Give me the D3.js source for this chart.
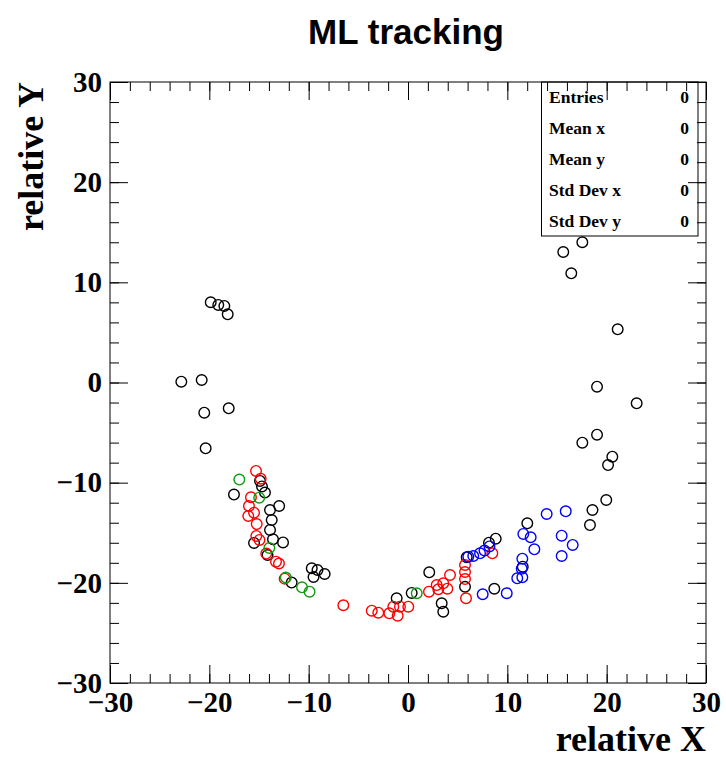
<!DOCTYPE html>
<html lang="en">
<head>
<meta charset="UTF-8">
<title>ML tracking</title>
<script src="https://d3js.org/d3.v7.min.js"></script>
<style>
  body { margin: 0; background: #fff; }
  svg { display: block; }
</style>
</head>
<body>
<div id="chart"></div>
<script>
// hits, [x, y] in relative units
const blackPts = [
  [-19.86, 8.01], [-19.10, 7.74], [-18.49, 7.64], [-18.15, 6.81],
  [-22.82, 0.08], [-20.77, 0.25], [-20.51, -3.01], [-18.05, -2.58], [-20.37, -6.57],
  [-14.90, -9.83], [-14.70, -10.38], [-14.40, -10.98], [-17.52, -11.19],
  [-12.97, -12.33], [-13.89, -12.73], [-13.72, -13.73], [-13.89, -14.72],
  [-13.59, -15.65], [-15.50, -16.02], [-12.58, -15.97], [-14.14, -17.22],
  [-11.71, -19.97], [-9.69, -18.55], [-9.11, -18.72], [-9.51, -19.42], [-8.39, -19.12],
  [17.55, 14.00], [15.63, 13.03], [16.44, 10.90], [21.11, 5.31], [19.03, -0.42],
  [23.02, -2.08], [19.03, -5.21], [17.55, -6.01], [20.57, -7.41], [20.14, -8.24],
  [19.96, -11.73], [18.57, -12.73], [18.32, -14.23], [12.01, -14.06],
  [8.83, -15.59], [8.15, -15.99], [5.91, -17.45], [2.14, -18.95], [0.37, -21.01],
  [-1.14, -21.54], [3.39, -22.04], [3.55, -22.88], [5.74, -20.39], [8.69, -20.59],
  [11.55, -18.39]
];
const redPts = [
  [-15.30, -8.83], [-14.83, -9.60], [-15.81, -11.46], [-16.01, -12.33], [-15.50, -13.00],
  [-16.08, -13.33], [-15.23, -14.13], [-15.27, -15.32], [-14.95, -15.72], [-14.27, -17.08],
  [-13.29, -17.89], [-12.99, -18.07], [-12.42, -19.58], [-6.51, -22.24],
  [8.49, -17.05], [5.74, -18.22], [5.74, -18.92], [5.74, -19.62], [5.84, -21.54],
  [4.23, -19.22], [3.55, -20.05], [2.89, -20.22], [3.96, -20.58], [3.05, -20.64],
  [2.11, -20.88], [0.03, -22.38], [-0.81, -22.38], [-1.48, -22.38], [-1.88, -23.04],
  [-1.04, -23.28], [-2.99, -22.98], [-3.65, -22.78]
];
const greenPts = [
  [-16.98, -9.69], [-14.98, -11.50], [-13.96, -16.52], [-12.30, -19.47],
  [-10.67, -20.45], [-9.91, -20.88], [0.88, -21.04]
];
const bluePts = [
  [13.96, -13.13], [15.88, -12.86], [11.61, -15.12], [12.35, -15.45], [12.72, -16.65],
  [15.47, -15.29], [16.58, -16.22], [15.47, -17.32], [11.51, -17.59], [11.45, -18.59],
  [11.00, -19.55], [11.51, -19.45], [7.52, -21.14], [9.94, -21.04],
  [6.07, -17.39], [6.57, -17.32], [7.25, -17.05], [7.70, -16.77], [8.20, -16.37]
];

const statNames = ["Entries", "Mean x", "Mean y", "Std Dev x", "Std Dev y"];
const statValues = [0, 0, 0, 0, 0];

const majorTicks = [-30, -20, -10, 0, 10, 20, 30];
const minorTicks = d3.range(-30, 30.1, 2);

const W = 726, H = 759;
const frame = { left: 110, right: 706, top: 82, bottom: 683 };

const svg = d3.select("#chart").append("svg")
  .attr("width", W).attr("height", H);

const x = d3.scaleLinear().domain([-30, 30]).range([frame.left, frame.right]);
const y = d3.scaleLinear().domain([-30, 30]).range([frame.bottom, frame.top]);

// title
svg.append("text")
  .attr("x", 406).attr("y", 44)
  .attr("text-anchor", "middle")
  .style("font", "bold 35px 'Liberation Sans', Arial, sans-serif")
  .text("ML tracking");

// markers
const series = [
  { pts: blackPts, color: "#000000" },
  { pts: redPts, color: "#ff0000" },
  { pts: greenPts, color: "#109a10" },
  { pts: bluePts, color: "#0000ff" }
];
series.forEach(s => {
  svg.append("g")
    .selectAll("circle")
    .data(s.pts)
    .enter()
    .append("circle")
    .attr("cx", d => x(d[0]))
    .attr("cy", d => y(d[1]))
    .attr("r", 5.3)
    .attr("fill", "none")
    .attr("stroke", s.color)
    .attr("stroke-width", 1.4);
});

// stats box
const box = { x0: 541.5, x1: 698, y0: frame.top, y1: 236 };
svg.append("rect")
  .attr("x", box.x0).attr("y", box.y0)
  .attr("width", box.x1 - box.x0).attr("height", box.y1 - box.y0)
  .attr("fill", "#fff").attr("stroke", "#000").attr("stroke-width", 1);
const rowH = (box.y1 - box.y0) / statNames.length;
const stats = svg.append("g")
  .style("font", "bold 17.5px 'Liberation Serif', 'Times New Roman', serif");
statNames.forEach((n, i) => {
  const by = box.y0 + rowH * (i + 0.5) + 6;
  stats.append("text").attr("x", 549).attr("y", by).text(n);
  stats.append("text").attr("x", 689).attr("y", by)
    .attr("text-anchor", "end").text(statValues[i]);
});

// axes, ticks pointing inward
const labelFont = "bold 29px 'Liberation Serif', 'Times New Roman', serif";
function drawAxis(axisFn, scale, tx, ty, size, labels) {
  const major = axisFn(scale).tickValues(majorTicks).tickSize(-size).tickSizeOuter(0);
  if (labels) major.tickFormat(d3.format("d")).tickPadding(8);
  else major.tickFormat("");
  const gm = svg.append("g").attr("transform", `translate(${tx},${ty})`).call(major);
  const minor = axisFn(scale).tickValues(minorTicks).tickSize(-size / 2).tickFormat("");
  const gn = svg.append("g").attr("transform", `translate(${tx},${ty})`).call(minor);
  [gm, gn].forEach(g => {
    g.select(".domain").remove();
    g.selectAll("line").attr("stroke", "#000").attr("stroke-width", 1);
  });
  gm.selectAll("text").style("font", labelFont).attr("fill", "#000");
  return gm;
}
drawAxis(d3.axisBottom, x, 0, frame.bottom, 18, true);
drawAxis(d3.axisTop, x, 0, frame.top, 18, false);
const gl = drawAxis(d3.axisLeft, y, frame.left, 0, 18, true);
gl.selectAll("text").attr("x", -8);
drawAxis(d3.axisRight, y, frame.right, 0, 18, false);

svg.append("rect")
  .attr("x", frame.left).attr("y", frame.top)
  .attr("width", frame.right - frame.left).attr("height", frame.bottom - frame.top)
  .attr("fill", "none").attr("stroke", "#000").attr("stroke-width", 1);

// axis titles
const titleFont = "bold 36px 'Liberation Serif', 'Times New Roman', serif";
svg.append("text")
  .attr("x", frame.right).attr("y", 751)
  .attr("text-anchor", "end")
  .style("font", titleFont)
  .text("relative X");
svg.append("text")
  .attr("transform", `translate(43,${frame.top}) rotate(-90)`)
  .attr("text-anchor", "end")
  .style("font", titleFont)
  .text("relative Y");
</script>
</body>
</html>
